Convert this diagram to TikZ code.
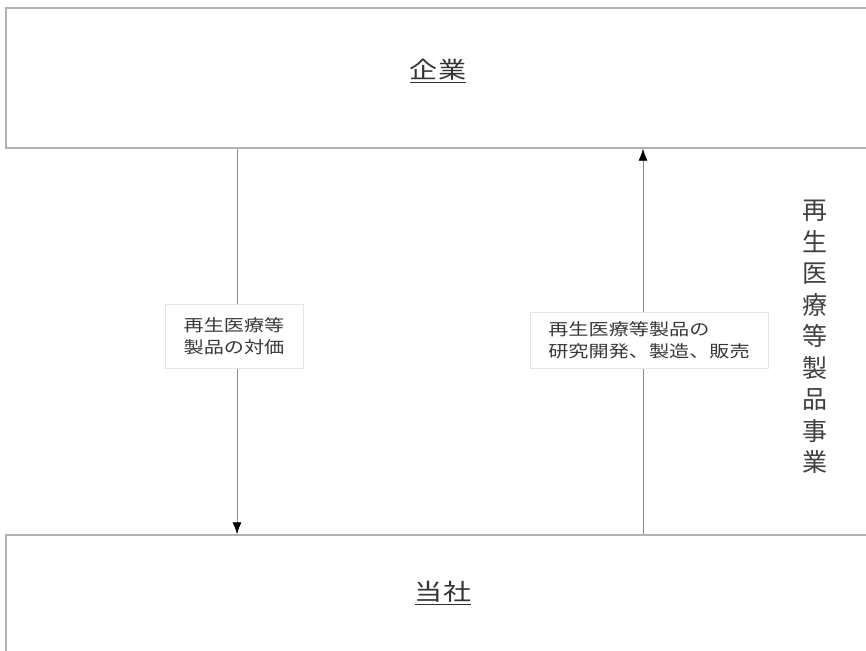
\documentclass[tikz,border=0pt]{standalone}
\usepackage{fontspec}
\usetikzlibrary{arrows.meta}
\newfontfamily\jpwide[FakeStretch=1.22]{Noto Sans CJK JP}
\newfontfamily\jp{Noto Sans CJK JP}
\tikzset{
  party/.style={draw=black!30,line width=1.4pt,fill=white,inner sep=0pt},
  flow/.style={draw=black!45,line width=0.8pt,-{Latex[length=12pt,width=9pt,color=black]}},
  note/.style={draw=black!10,fill=white,align=left,inner sep=0pt,
    font=\jpwide\fontsize{16.5}{22}\selectfont,text=black!78},
}
\begin{document}
\begin{tikzpicture}[x=1pt,y=-1pt]
\useasboundingbox (0,0) rectangle (866,650);
\clip (0,0) rectangle (866,650);
\node[party,minimum width=874pt,minimum height=140pt] at (443,78) (corpbox) {};
\node[party,minimum width=874pt,minimum height=160pt] at (443,615) (ourbox) {};
\node[font=\jpwide\fontsize{23}{23}\selectfont,text=black!80] at (438,71) (corp) {\underline{企業}};
\node[font=\jpwide\fontsize{23}{23}\selectfont,text=black!80] at (443,593) (us) {\underline{当社}};
\coordinate (a1) at (237,0);
\coordinate (a2) at (643,0);
\draw[flow] (corpbox.south -| a1) -- (ourbox.north -| a1);
\draw[flow] (ourbox.north -| a2) -- (corpbox.south -| a2);
\node[note,minimum width=138pt,minimum height=64pt] at (234,336) (pay) {再生医療等\\製品の対価};
\node[note,minimum width=238pt,minimum height=56pt] at (649,340) (dev) {再生医療等製品の\\研究開発、製造、販売};
\node[align=center,font=\jp\fontsize{25}{31.5}\selectfont,text=black!75] at (815,337) (biz)
  {再\\生\\医\\療\\等\\製\\品\\事\\業};
\end{tikzpicture}
\end{document}
